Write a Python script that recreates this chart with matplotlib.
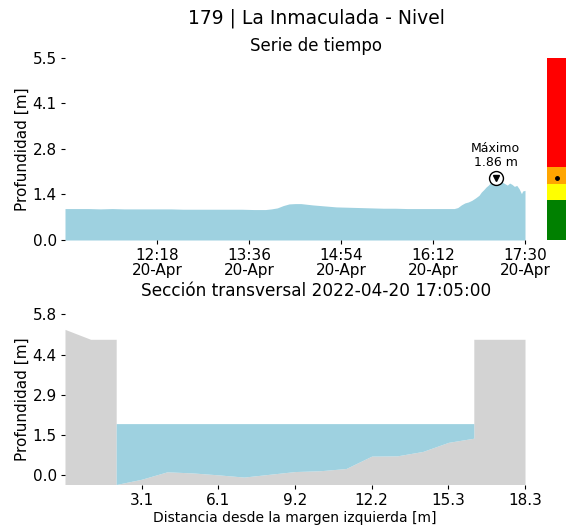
import matplotlib
matplotlib.use("Agg")
import matplotlib.pyplot as plt
import pandas as pd
import numpy as np

# ---------------- data ----------------
day = "2022-04-20"
times = ["11:00", "11:10", "11:20", "11:30", "11:40", "11:50", "12:00", "12:10", "12:20",
         "12:30", "12:40", "12:50", "13:00", "13:10", "13:20", "13:30", "13:40", "13:50",
         "13:55", "14:00", "14:05", "14:10", "14:15", "14:20", "14:25", "14:30", "14:40",
         "14:50", "15:00", "15:10", "15:20", "15:30", "15:40", "15:50", "16:00", "16:10",
         "16:20", "16:30", "16:33", "16:36", "16:39", "16:42", "16:45", "16:48", "16:51",
         "16:53", "16:55", "16:57", "16:59", "17:01", "17:03", "17:05", "17:07", "17:09",
         "17:11", "17:13", "17:15", "17:17", "17:19", "17:21", "17:23", "17:25", "17:27",
         "17:28", "17:30"]
levels = [0.95, 0.95, 0.95, 0.94, 0.95, 0.94, 0.94, 0.94, 0.94,
          0.94, 0.93, 0.93, 0.93, 0.93, 0.93, 0.93, 0.92, 0.92,
          0.94, 0.97, 1.04, 1.09, 1.10, 1.10, 1.08, 1.06, 1.03,
          1.00, 0.99, 0.98, 0.97, 0.96, 0.96, 0.95, 0.95, 0.95,
          0.95, 0.95, 0.98, 1.06, 1.12, 1.15, 1.20, 1.27, 1.35,
          1.45, 1.52, 1.60, 1.66, 1.74, 1.80, 1.86, 1.78, 1.82,
          1.74, 1.70, 1.66, 1.72, 1.68, 1.62, 1.65, 1.55, 1.40,
          1.48, 1.50]
time_ticks = ["12:18", "13:36", "14:54", "16:12", "17:30"]
level_ticks = [0.0, 1.375, 2.75, 4.125, 5.5]

alert_bounds = [0.0, 1.2, 1.7, 2.2, 5.5]
alert_colors = ["green", "yellow", "orange", "red"]

section_x = [0.0, 1.02, 2.04, 2.04, 3.05, 4.07, 5.09, 6.11, 7.13, 8.15, 9.17, 10.18,
             11.2, 12.22, 13.24, 14.26, 15.28, 16.29, 16.29, 17.31, 18.33]
section_z = [5.28, 4.92, 4.92, -0.35, -0.16, 0.11, 0.07, 0.0, -0.08, 0.02, 0.12, 0.15,
             0.23, 0.68, 0.69, 0.85, 1.18, 1.33, 4.92, 4.92, 4.92]
water_level = 1.86
section_yticks = [0.0, 1.455, 2.91, 4.365, 5.82]
section_xticks = [3.055, 6.11, 9.165, 12.22, 15.275, 18.33]

# ---------------- figure ----------------
W, H = 566, 527
fig = plt.figure(figsize=(W / 100, H / 100), dpi=100)

water_c = "#9ed1e0"
ground_c = "#d3d3d3"

def ax_rect(x0, y0, x1, y1):
    return [x0 / W, 1 - y1 / H, (x1 - x0) / W, (y1 - y0) / H]

# Time series
ax1 = fig.add_axes(ax_rect(65, 58, 525, 240))
t = pd.to_datetime([f"{day} {s}" for s in times])
lv = np.array(levels)
ax1.fill_between(t, 0, lv, color=water_c, lw=0)
imax = int(np.argmax(lv))
ax1.plot(t[imax], lv[imax], "o", ms=10, mfc="white", mec="black", mew=1.0)
ax1.plot(t[imax], lv[imax], "v", ms=5, color="black")
ax1.annotate(f"Máximo\n{lv[imax]:.2f} m", (t[imax], lv[imax]), xytext=(0, 7),
             textcoords="offset points", ha="center", va="bottom", fontsize=9,
             linespacing=1.1)
ax1.set_xlim(t[0], t[-1])
ax1.set_ylim(0, 5.5)
ax1.set_yticks(level_ticks)
ax1.set_yticklabels([f"{v:.1f}" for v in level_ticks], fontsize=11)
tt = pd.to_datetime([f"{day} {s}" for s in time_ticks])
ax1.set_xticks(tt)
ax1.set_xticklabels([f"{s}\n20-Apr" for s in time_ticks], fontsize=11, linespacing=1.0)
ax1.set_ylabel("Profundidad [m]", fontsize=11, labelpad=2)
ax1.tick_params(length=3, pad=3)
for s in ax1.spines.values():
    s.set_visible(False)

# Alert bar
axc = fig.add_axes(ax_rect(547, 58, 566, 240))
for i, c in enumerate(alert_colors):
    axc.bar(0, alert_bounds[i + 1] - alert_bounds[i], bottom=alert_bounds[i], width=1,
            color=c, lw=0)
axc.plot(0, lv[imax], "o", ms=2.5, color="black")
axc.set_xlim(-0.5, 0.5)
axc.set_ylim(0, 5.5)
axc.axis("off")

# Cross section
ax2 = fig.add_axes(ax_rect(65, 314.5, 525, 484.5))
ymin = -0.35
sx = np.array(section_x)
sz = np.array(section_z)
ax2.fill_between(sx, ymin, sz, color=ground_c, lw=0)
idx = np.arange(3, 18)
ax2.fill_between(sx[idx], sz[idx], water_level, color=water_c, lw=0)
ax2.set_xlim(0, 18.33)
ax2.set_ylim(ymin, 5.82)
ax2.set_yticks(section_yticks)
ax2.set_yticklabels([f"{v:.1f}" for v in section_yticks], fontsize=11)
ax2.set_xticks(section_xticks)
ax2.set_xticklabels([f"{v:.1f}" for v in section_xticks], fontsize=11)
ax2.set_ylabel("Profundidad [m]", fontsize=11, labelpad=2)
ax2.set_xlabel("Distancia desde la margen izquierda [m]", fontsize=10, labelpad=2)
ax2.tick_params(length=3, pad=3)
for s in ax2.spines.values():
    s.set_visible(False)

fig.text(316 / W, 1 - 18 / H, "179 | La Inmaculada - Nivel", ha="center", va="center", fontsize=13.5)
fig.text(316 / W, 1 - 46 / H, "Serie de tiempo", ha="center", va="center", fontsize=12)
fig.text(316 / W, 1 - 291 / H, "Sección transversal 2022-04-20 17:05:00", ha="center",
         va="center", fontsize=12.2)

fig.savefig("out.png", dpi=100)
